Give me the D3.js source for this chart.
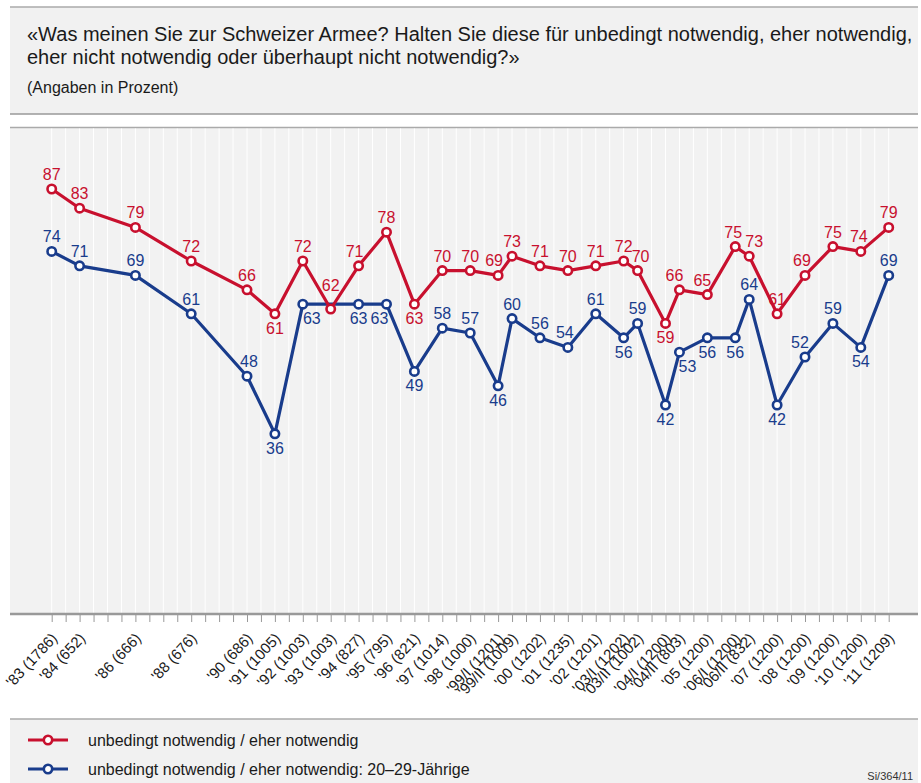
<!DOCTYPE html>
<html>
<head>
<meta charset="utf-8">
<script src="https://cdn.jsdelivr.net/npm/d3@7"></script>
<style>
  body { margin: 0; background: #fff; }
  svg { display: block; font-family: "Liberation Sans", Arial, Helvetica, sans-serif; }
</style>
</head>
<body>
<div id="chart"></div>
<script>
// survey waves (short label + number of respondents)
var waves = ["'83","'84","'86","'88","'90","'91","'92","'93","'94","'95","'96","'97","'98",
    "'99/I","'99/II","'00","'01","'02","'03/I","'03/II","'04/I","'04/II","'05","'06/I","'06/II",
    "'07","'08","'09","'10","'11"];
var respondents = [1786,652,666,676,686,1005,1003,1003,827,795,821,1014,1000,
    1201,1009,1202,1235,1201,1202,1002,1200,803,1200,1200,832,1200,1200,1200,1200,1209];
// time of each wave, counted in half-year steps from '83
var halfYear = [0,2,6,10,14,16,18,20,22,24,26,28,30,32,33,35,37,39,41,42,44,45,47,49,50,52,54,56,58,60];

// unbedingt / eher notwendig (all)
var necessaryAll = [87,83,79,72,66,61,72,62,71,78,63,70,70,69,73,71,70,71,72,70,59,66,65,75,73,61,69,75,74,79];
// unbedingt / eher notwendig: 20-29-Jaehrige ('93 not shown)
var necessaryYoung = [74,71,69,61,48,36,63,null,63,63,49,58,57,46,60,56,54,61,56,59,42,53,56,56,64,42,52,59,54,69];

var seriesNames = ["unbedingt notwendig / eher notwendig",
    "unbedingt notwendig / eher notwendig: 20\u201329-J\u00e4hrige"];

// label placement
var redBelow = ["'91","'96","'04/I"];
var blueBelow = ["'91","'92","'94","'95","'96","'99/I","'03/I","'04/I","'04/II","'05","'06/I","'07","'10"];
var redNudge = {"'93":[0,-9], "'94":[-4,0], "'99/I":[-4,0], "'03/II":[3,0], "'04/II":[-5,0], "'05":[-5,0],
    "'06/I":[-2,0], "'06/II":[5,0], "'08":[-3,0], "'10":[-2,0]};
var blueNudge = {"'92":[9,0], "'95":[-7,0], "'04/II":[8,0], "'08":[-5,0], "'01":[-3,0], "'90":[2,0]};

var width = 921, height = 783;
var red = "#c8102e", blue = "#193c8c";

var svg = d3.select("#chart").append("svg")
    .attr("width", width)
    .attr("height", height);

// header box
svg.append("rect").attr("x",10).attr("y",7).attr("width",908).attr("height",107).attr("fill","#f1f1f1");
svg.append("line").attr("x1",10).attr("x2",918).attr("y1",7).attr("y2",7).attr("stroke","#aaa").attr("stroke-width",1.5);
svg.append("line").attr("x1",10).attr("x2",918).attr("y1",114).attr("y2",114).attr("stroke","#999").attr("stroke-width",1.5);

svg.append("text").attr("x",27).attr("y",41).attr("font-size","20px").attr("fill","#1a1a1a")
    .text("\u00abWas meinen Sie zur Schweizer Armee? Halten Sie diese f\u00fcr unbedingt notwendig, eher notwendig,");
svg.append("text").attr("x",27).attr("y",64).attr("font-size","20px").attr("fill","#1a1a1a")
    .text("eher nicht notwendig oder \u00fcberhaupt nicht notwendig?\u00bb");
svg.append("text").attr("x",27).attr("y",93).attr("font-size","16px").attr("fill","#1a1a1a")
    .text("(Angaben in Prozent)");

// plot area
svg.append("rect").attr("x",10).attr("y",127.5).attr("width",908).attr("height",486.5).attr("fill","#f2f2f2");
svg.append("line").attr("x1",10).attr("x2",918).attr("y1",127.5).attr("y2",127.5).attr("stroke","#aaa").attr("stroke-width",1.5);

var x = d3.scaleLinear().domain([0,60]).range([51.7,888.7]);
var y = d3.scaleLinear().domain([0,100]).range([606.6,126.6]);

// vertical grid
svg.append("g").selectAll("line")
    .data(d3.range(0,61))
    .enter().append("line")
    .attr("x1",d=>x(d)).attr("x2",d=>x(d))
    .attr("y1",128.5).attr("y2",613)
    .attr("stroke","#fff").attr("stroke-width",1);

// x axis
var labelAt = {};
halfYear.forEach(function(h,i){ labelAt[h] = waves[i] + " (" + respondents[i] + ")"; });

var xAxis = d3.axisBottom(x)
    .tickValues(d3.range(0,61))
    .tickSize(7)
    .tickFormat(d => labelAt[d] || "");

var gx = svg.append("g")
    .attr("transform","translate(0,615)")
    .call(xAxis);
gx.select(".domain").remove();
gx.selectAll(".tick line").attr("stroke","#999");
gx.selectAll(".tick text")
    .attr("x",0).attr("y",0).attr("dy",0)
    .attr("text-anchor","end")
    .attr("transform","translate(6,24) rotate(-47)")
    .attr("font-size","15px")
    .attr("font-family","'Liberation Sans', Arial, sans-serif")
    .attr("fill","#1a1a1a");

svg.append("line").attr("x1",10).attr("x2",918).attr("y1",614).attr("y2",614)
    .attr("stroke","#999").attr("stroke-width",2.5);

// series
function drawSeries(values, color, below, nudge){
    var pts = values.map(function(v,i){ return {w:waves[i], t:halfYear[i], v:v}; })
        .filter(d => d.v !== null);
    var line = d3.line().x(d=>x(d.t)).y(d=>y(d.v));
    svg.append("path").datum(pts)
        .attr("d",line)
        .attr("fill","none")
        .attr("stroke",color)
        .attr("stroke-width",3.2)
        .attr("stroke-linejoin","round");
    svg.append("g").selectAll("circle")
        .data(pts)
        .enter().append("circle")
        .attr("cx",d=>x(d.t)).attr("cy",d=>y(d.v))
        .attr("r",4.2)
        .attr("fill","#fff")
        .attr("stroke",color)
        .attr("stroke-width",2.6);
    return pts.map(function(d){
        var n = nudge[d.w] || [0,0];
        var isBelow = below.indexOf(d.w) >= 0;
        return {x:x(d.t)+n[0], y:y(d.v)+(isBelow ? 20 : -9)+n[1], text:d.v, color:color};
    });
}

var blueLabels = drawSeries(necessaryYoung, blue, blueBelow, blueNudge);
var redLabels = drawSeries(necessaryAll, red, redBelow, redNudge);

svg.append("g").selectAll("text")
    .data(blueLabels.concat(redLabels))
    .enter().append("text")
    .attr("x",d=>d.x).attr("y",d=>d.y)
    .attr("text-anchor","middle")
    .attr("font-size","16px")
    .attr("fill",d=>d.color)
    .text(d=>d.text);

// legend
svg.append("rect").attr("x",10).attr("y",719).attr("width",908).attr("height",64).attr("fill","#f1f1f1");
svg.append("line").attr("x1",10).attr("x2",918).attr("y1",719).attr("y2",719).attr("stroke","#aaa").attr("stroke-width",1.5);

var legend = svg.append("g").selectAll("g")
    .data([{name:seriesNames[0], color:red}, {name:seriesNames[1], color:blue}])
    .enter().append("g")
    .attr("transform",(d,i)=>"translate(0," + (740 + i*29) + ")");
legend.append("line").attr("x1",28).attr("x2",68)
    .attr("stroke",d=>d.color).attr("stroke-width",3.2);
legend.append("circle").attr("cx",48).attr("r",4.2)
    .attr("fill","#fff").attr("stroke",d=>d.color).attr("stroke-width",2.6);
legend.append("text").attr("x",88).attr("y",5.5)
    .attr("font-size","16px").attr("fill","#1a1a1a")
    .text(d=>d.name);

svg.append("text").attr("x",913).attr("y",780).attr("text-anchor","end")
    .attr("font-size","11px").attr("fill","#333").text("Si/364/11");
</script>
</body>
</html>
